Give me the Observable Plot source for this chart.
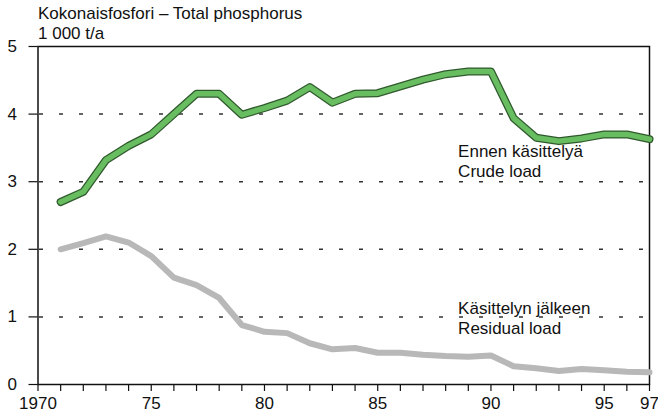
<!DOCTYPE html>
<html>
<head>
<meta charset="utf-8">
<script src="https://cdn.jsdelivr.net/npm/d3@7"></script>
<script src="https://cdn.jsdelivr.net/npm/@observablehq/plot@0.6"></script>
<style>
  html, body { margin: 0; padding: 0; background: #fff; }
  #wrap { position: relative; width: 658px; height: 419px; font-family: "Liberation Sans", Arial, sans-serif; color: #111; }
  #title { position: absolute; left: 38px; top: 4px; font-size: 17px; line-height: 20px; }
  #chart { position: absolute; left: 0; top: 0; }
</style>
</head>
<body>
<div id="wrap">
  <div id="chart"></div>
  <div id="title">Kokonaisfosfori – Total phosphorus<br>1 000 t/a</div>
</div>
<script>
const years = [1971, 1972, 1973, 1974, 1975, 1976, 1977, 1978, 1979, 1980, 1981, 1982, 1983, 1984,
               1985, 1986, 1987, 1988, 1989, 1990, 1991, 1992, 1993, 1994, 1995, 1996, 1997];
const crudeLoad = [2.70, 2.85, 3.32, 3.53, 3.70, 4.00, 4.30, 4.30, 3.99, 4.09, 4.20, 4.40, 4.17, 4.30,
                   4.31, 4.41, 4.51, 4.59, 4.63, 4.63, 3.94, 3.65, 3.60, 3.64, 3.70, 3.70, 3.63];
const residualLoad = [2.00, 2.09, 2.19, 2.10, 1.90, 1.58, 1.47, 1.28, 0.88, 0.78, 0.76, 0.61, 0.52, 0.54,
                      0.47, 0.47, 0.44, 0.42, 0.41, 0.43, 0.27, 0.24, 0.20, 0.23, 0.21, 0.19, 0.18];
const xTickYears = [1970, 1971, 1972, 1973, 1974, 1975, 1976, 1977, 1978, 1979, 1980, 1981, 1982, 1983,
                    1984, 1985, 1986, 1987, 1988, 1989, 1990, 1991, 1992, 1993, 1994, 1995, 1996, 1997];
const xLabelYears = [1970, 1975, 1980, 1985, 1990, 1995, 1997];
const xLabels = ["1970", "75", "80", "85", "90", "95", "97"];
const yTicks = [0, 1, 2, 3, 4, 5];
const gridValues = [1, 2, 3, 4];
const seriesLabelText = ["Ennen käsittelyä\nCrude load", "Käsittelyn jälkeen\nResidual load"];
const seriesLabelYear = [1988.55, 1988.55];
const seriesLabelValue = [3.57, 1.26];

const crude = years.map((y, i) => ({year: y, value: crudeLoad[i]}));
const residual = years.map((y, i) => ({year: y, value: residualLoad[i]}));
const labels = seriesLabelText.map((t, i) => ({text: t, year: seriesLabelYear[i], value: seriesLabelValue[i]}));
const labelMap = new Map(xLabelYears.map((y, i) => [y, xLabels[i]]));

const chart = Plot.plot({
  width: 658,
  height: 419,
  marginLeft: 37.5,
  marginRight: 9,
  marginTop: 46,
  marginBottom: 35,
  style: {fontFamily: "'Liberation Sans', Arial, sans-serif", fontSize: "17px", color: "#111", background: "transparent"},
  x: {domain: [1970, 1997]},
  y: {domain: [0, 5]},
  marks: [
    Plot.gridY(gridValues, {stroke: "#333", strokeOpacity: 1, strokeWidth: 1.5, strokeDasharray: "4,16", strokeDashoffset: -1.5}),
    Plot.axisY(yTicks, {tickSize: 9, tickPadding: 12, tickFormat: d3.format("d"), label: null, stroke: "#111", strokeWidth: 1.2, fontSize: 17}),
    Plot.axisX(xTickYears, {tickSize: 7, tickFormat: () => "", label: null, stroke: "#111", strokeWidth: 1.2}),
    Plot.axisX(xLabelYears, {tickSize: 0, tickPadding: 12, tickFormat: d => labelMap.get(d), label: null, fontSize: 17}),
    Plot.frame({stroke: "#111", strokeWidth: 1.5}),
    Plot.line(residual, {x: "year", y: "value", stroke: "#b8b8b8", strokeWidth: 6, strokeLinejoin: "round", strokeLinecap: "round"}),
    Plot.line(crude, {x: "year", y: "value", stroke: "#30592d", strokeWidth: 8, strokeLinejoin: "round", strokeLinecap: "round"}),
    Plot.line(crude, {x: "year", y: "value", stroke: "#68bd60", strokeWidth: 5.5, strokeLinejoin: "round", strokeLinecap: "round"}),
    Plot.text(labels, {x: "year", y: "value", text: "text", textAnchor: "start", lineAnchor: "top", lineHeight: 1.18, fontSize: 17, fill: "#111"})
  ]
});
document.getElementById("chart").appendChild(chart);
</script>
</body>
</html>
